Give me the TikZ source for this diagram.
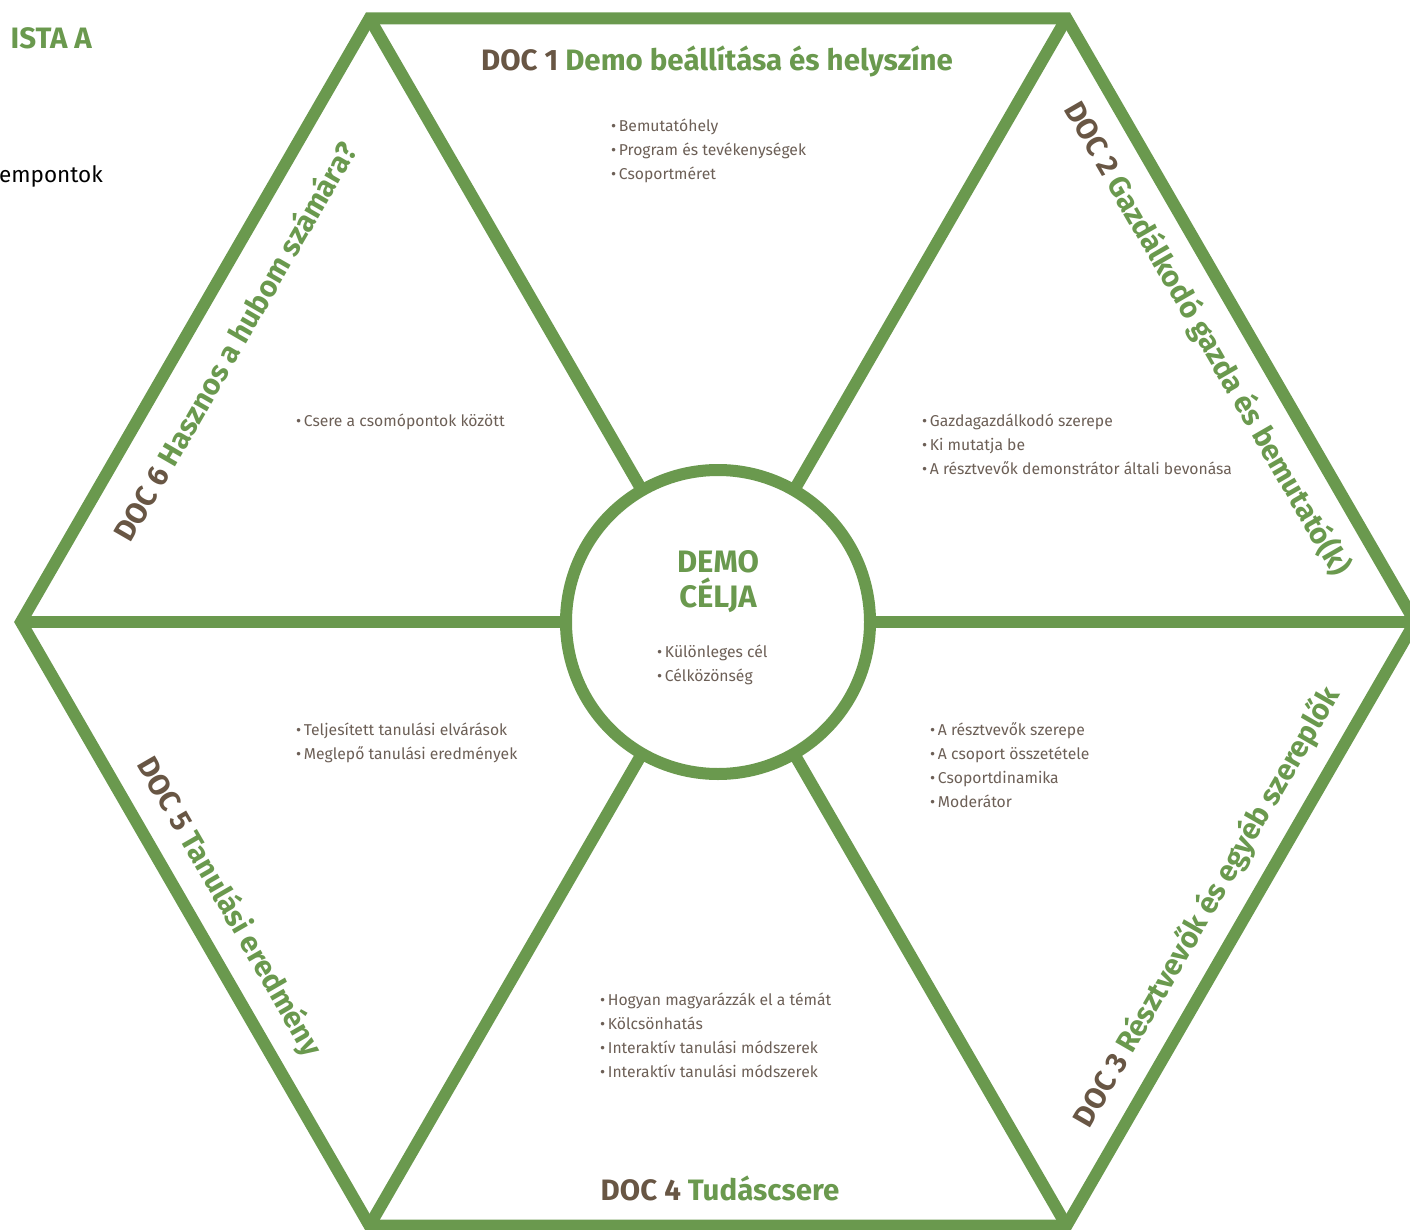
\documentclass[tikz,border=0pt]{standalone}
\usepackage{fontspec}
\setmainfont{Fira Sans}
\definecolor{hexgreen}{RGB}{106,153,78}
\definecolor{docbrown}{RGB}{104,86,68}
\definecolor{listgray}{RGB}{108,95,86}
\tikzset{
  hexline/.style={draw=hexgreen,line width=12pt},
  doctitle/.style={font=\bfseries\fontsize{29.5}{32}\selectfont,inner sep=0pt},
  listitem/.style={font=\fontsize{15.7}{24}\selectfont,text=listgray,inner sep=0pt,anchor=base west},
}
\newcommand{\doclabel}[2]{\textcolor{docbrown}{DOC #1} \textcolor{hexgreen}{#2}}
\begin{document}
\begin{tikzpicture}[x=1pt,y=-1pt,line join=miter]
    \useasboundingbox (0,0) rectangle (1410,1230);
    \clip (0,0) rectangle (1410,1230);
    \def\R{697}
    \coordinate (O) at (718,622);
    \foreach \a [count=\i] in {0,60,...,300}
        \path (O) ++(\a:\R) coordinate (V\i);
    % spokes and frame
    \foreach \i in {1,...,6}
        \draw[hexline] (O) -- (V\i);
    \draw[hexline] (V1) -- (V2) -- (V3) -- (V4) -- (V5) -- (V6) -- cycle;
    \draw[hexline,fill=white] (O) circle[radius=152pt];
    % cut-off page text
    \node[doctitle,text=hexgreen,anchor=base east] (head) at (92,49) {ISTA A};
    \node[font=\fontsize{22.5}{24}\selectfont,inner sep=0pt,anchor=base east] (sub) at (103,183) {empontok};
    % centre
    \node[doctitle,text=hexgreen,align=center,font=\bfseries\fontsize{31}{35}\selectfont] (aim) at (718,582) {DEMO\\CÉLJA};
    \foreach \t [count=\k] in {Különleges cél,Célközönség}
        \node[listitem] (c\k) at (657,{633+24*\k}) {\textbullet\,\t};
    % titles
    \node[doctitle] (doc1) at (717,61) {\doclabel{1}{Demo beállítása és helyszíne}};
    \node[doctitle,rotate=-60] (doc2) at (1207,339) {\doclabel{2}{Gazdálkodó gazda és bemutató(k)}};
    \node[doctitle,rotate=60] (doc3) at (1207,907) {\doclabel{3}{Résztvevők és egyéb szereplők}};
    \node[doctitle] (doc4) at (720,1188) {\doclabel{4}{Tudáscsere}};
    \node[doctitle,rotate=-60] (doc5) at (229,907) {\doclabel{5}{Tanulási eredmény}};
    \node[doctitle,rotate=60] (doc6) at (234,341) {\doclabel{6}{Hasznos a hubom számára?}};
    % lists
    \foreach \t [count=\k] in {Bemutatóhely,Program és tevékenységek,Csoportméret}
        \node[listitem] (d1-\k) at (611,{108+24*\k}) {\textbullet\,\t};
    \foreach \t [count=\k] in {Gazdagazdálkodó szerepe,Ki mutatja be,A résztvevők demonstrátor általi bevonása}
        \node[listitem] (d2-\k) at (922,{402+24*\k}) {\textbullet\,\t};
    \foreach \t [count=\k] in {A résztvevők szerepe,A csoport összetétele,Csoportdinamika,Moderátor}
        \node[listitem] (d3-\k) at (930,{711+24*\k}) {\textbullet\,\t};
    \foreach \t [count=\k] in {Hogyan magyarázzák el a témát,Kölcsönhatás,Interaktív tanulási módszerek,Interaktív tanulási módszerek}
        \node[listitem] (d4-\k) at (600,{981+24*\k}) {\textbullet\,\t};
    \foreach \t [count=\k] in {Teljesített tanulási elvárások,Meglepő tanulási eredmények}
        \node[listitem] (d5-\k) at (296,{711+24*\k}) {\textbullet\,\t};
    \node[listitem] (d6-1) at (296,426) {\textbullet\,Csere a csomópontok között};
\end{tikzpicture}
\end{document}
